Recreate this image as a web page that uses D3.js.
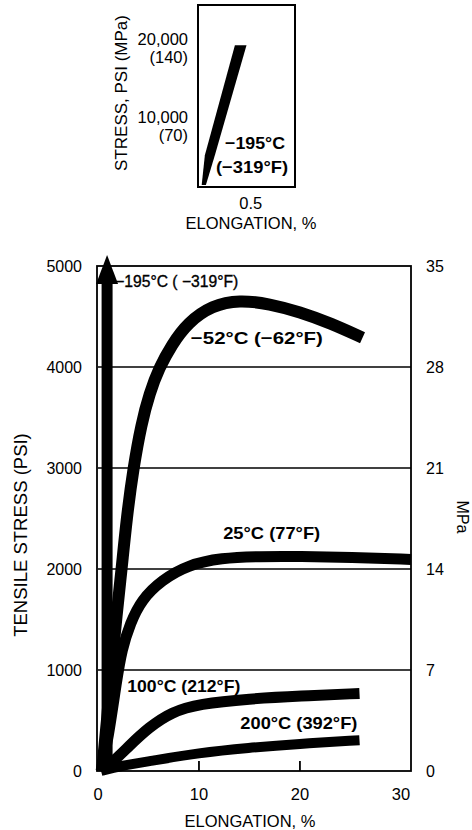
<!DOCTYPE html>
<html>
<head>
<meta charset="utf-8">
<script src="https://cdn.jsdelivr.net/npm/d3@7"></script>
<style>
    body { margin: 0; background: #fff; }
    svg { display: block; font-family: "Liberation Sans", Arial, sans-serif; }
</style>
</head>
<body>
<div id="chart"></div>
<script>
// main chart: elongation (%) vs tensile stress (psi)
var psiTicks = [0, 1000, 2000, 3000, 4000, 5000];
var mpaTicks = [0, 7, 14, 21, 28, 35];
var elongTicks = [0, 10, 20, 30];
var elongMarks = [10, 20];

var curve195 = [[0.9, 0], [0.9, 4880]];
var arrowTip195 = [0.9, 5110];
var curve52 = [[0.4, 0], [0.9, 500], [1.3, 1000], [1.85, 1550], [2.35, 2010], [2.84, 2505],
    [3.5, 3000], [4.3, 3440], [5.1, 3740], [6.05, 3990], [7.3, 4220], [8.9, 4440],
    [11.3, 4610], [14, 4665], [17, 4625], [20, 4545], [23, 4435], [26.2, 4290]];
var curve25 = [[0.3, 0], [1.0, 310], [1.85, 900], [2.35, 1200], [3.2, 1465], [4.3, 1695],
    [6.3, 1890], [8.9, 2040], [12.2, 2110], [16, 2125], [20, 2125], [25, 2115], [31, 2095]];
var curve100 = [[0.3, 0], [1.7, 110], [3.0, 240], [5.0, 430], [7.3, 585], [10, 665],
    [15, 715], [20, 742], [25.9, 768]];
var curve200 = [[0.3, 0], [2.2, 50], [5.1, 97], [10, 180], [14.9, 230], [19.8, 268], [25.9, 305]];

// inset: -195C curve, small elongation
var insetTicks = [20000, 10000];
var insetTickLabels = ["20,000", "10,000"];
var insetMpaLabels = ["(140)", "(70)"];
var insetElongTicks = [0.5];
// band edges: stress, left elongation, right elongation
var insetBand = [[250, 0.035, 0.075], [4100, 0.065, 0.16], [18300, 0.35, 0.46]];

var W = 472, H = 830;
var svg = d3.select("#chart").append("svg").attr("width", W).attr("height", H);

var x = d3.scaleLinear().domain([0, 31]).range([98, 411]);
var y = d3.scaleLinear().domain([0, 5000]).range([771, 266]);
var yM = d3.scaleLinear().domain([0, 35]).range([771, 266]);

var xi = d3.scaleLinear().domain([0, 0.92]).range([198, 295]);
var yi = d3.scaleLinear().domain([0, 23500]).range([187, 5]);

// ---------- inset ----------
var inset = svg.append("g").attr("class", "inset");

inset.append("rect")
    .attr("x", xi(0)).attr("y", yi(23500))
    .attr("width", xi(0.92) - xi(0)).attr("height", yi(0) - yi(23500))
    .attr("fill", "none").attr("stroke", "#000").attr("stroke-width", 2);

var band = d3.area()
    .y(function(d) { return yi(d[0]); })
    .x0(function(d) { return xi(d[1]); })
    .x1(function(d) { return xi(d[2]); });
inset.append("path").datum(insetBand).attr("d", band).attr("fill", "#000");

inset.selectAll(".itick").data(insetTicks).enter().append("text")
    .attr("x", 188).attr("y", function(d) { return yi(d) + 13; })
    .attr("text-anchor", "end").attr("font-size", 16.5)
    .text(function(d, i) { return insetTickLabels[i]; });
inset.selectAll(".impa").data(insetTicks).enter().append("text")
    .attr("x", 188).attr("y", function(d) { return yi(d) + 31; })
    .attr("text-anchor", "end").attr("font-size", 16.5)
    .text(function(d, i) { return insetMpaLabels[i]; });

inset.selectAll(".ixtick").data(insetElongTicks).enter().append("text")
    .attr("x", function(d) { return xi(d); }).attr("y", 209)
    .attr("text-anchor", "middle").attr("font-size", 16.5)
    .text(function(d) { return d; });

inset.append("text")
    .attr("x", 251).attr("y", 229).attr("text-anchor", "middle").attr("font-size", 16.5)
    .text("ELONGATION, %");

inset.append("text")
    .attr("transform", "translate(127,93) rotate(-90)")
    .attr("text-anchor", "middle").attr("font-size", 17)
    .text("STRESS, PSI (MPa)");

inset.append("text")
    .attr("x", 225).attr("y", 149).attr("font-size", 17).attr("font-weight", "bold")
    .attr("textLength", 60).attr("lengthAdjust", "spacingAndGlyphs")
    .text("\u2212195\u00b0C");
inset.append("text")
    .attr("x", 216).attr("y", 173).attr("font-size", 17).attr("font-weight", "bold")
    .attr("textLength", 72).attr("lengthAdjust", "spacingAndGlyphs")
    .text("(\u2212319\u00b0F)");

// ---------- main chart ----------
var main = svg.append("g").attr("class", "main");

main.selectAll(".grid").data(psiTicks.slice(1, 5)).enter().append("line")
    .attr("x1", x(0)).attr("x2", x(31))
    .attr("y1", function(d) { return y(d); }).attr("y2", function(d) { return y(d); })
    .attr("stroke", "#000").attr("stroke-width", 1.5);

// frame
main.append("rect")
    .attr("x", x(0) - 1).attr("y", y(5000))
    .attr("width", x(31) - x(0) + 1).attr("height", y(0) - y(5000))
    .attr("fill", "none").attr("stroke", "#000").attr("stroke-width", 1.8);

main.selectAll(".xmark").data(elongMarks).enter().append("line")
    .attr("x1", function(d) { return x(d); }).attr("x2", function(d) { return x(d); })
    .attr("y1", y(0)).attr("y2", y(0) - 10)
    .attr("stroke", "#000").attr("stroke-width", 1.8);

main.selectAll(".ylab").data(psiTicks).enter().append("text")
    .attr("x", 82).attr("y", function(d) { return y(d); })
    .attr("dy", "0.36em").attr("text-anchor", "end").attr("font-size", 16)
    .text(function(d) { return d; });

main.selectAll(".mlab").data(mpaTicks).enter().append("text")
    .attr("x", 426).attr("y", function(d) { return yM(d); })
    .attr("dy", "0.36em").attr("font-size", 16)
    .text(function(d) { return d; });

main.selectAll(".xlab").data(elongTicks).enter().append("text")
    .attr("x", function(d) { return x(d); }).attr("y", 800)
    .attr("text-anchor", "middle").attr("font-size", 16.5)
    .text(function(d) { return d; });

main.append("text")
    .attr("x", 250).attr("y", 827).attr("text-anchor", "middle").attr("font-size", 16.5)
    .text("ELONGATION, %");

main.append("text")
    .attr("transform", "translate(27,535) rotate(-90)")
    .attr("text-anchor", "middle").attr("font-size", 18.5)
    .text("TENSILE STRESS (PSI)");

main.append("text")
    .attr("transform", "translate(457,517) rotate(90)")
    .attr("text-anchor", "middle").attr("font-size", 16)
    .text("MPa");

var line = d3.line()
    .curve(d3.curveBasis)
    .x(function(d) { return x(d[0]); })
    .y(function(d) { return y(d[1]); });

var series = [
    { data: curve52, width: 12 },
    { data: curve25, width: 11 },
    { data: curve100, width: 11 },
    { data: curve200, width: 10 }
];
main.selectAll(".curve").data(series).enter().append("path")
    .attr("d", function(d) { return line(d.data); })
    .attr("fill", "none").attr("stroke", "#000")
    .attr("stroke-width", function(d) { return d.width; })
    .attr("stroke-linecap", "butt").attr("stroke-linejoin", "round");

// -195C: vertical shaft with arrow head
main.append("path")
    .attr("d", d3.line().x(function(d) { return x(d[0]); }).y(function(d) { return y(d[1]); })(curve195))
    .attr("stroke", "#000").attr("stroke-width", 11).attr("fill", "none");
var tipX = x(arrowTip195[0]), tipY = y(arrowTip195[1]), baseY = y(curve195[1][1]) + 6;
main.append("path")
    .attr("d", "M" + tipX + "," + tipY + "L" + (tipX + 11) + "," + baseY + "L" + (tipX - 11) + "," + baseY + "Z")
    .attr("fill", "#000");

var labels = [
    { text: "\u2212195\u00b0C ( \u2212319\u00b0F)", e: 1.7, s: 4790, len: 123, bold: false, size: 16 },
    { text: "\u221252\u00b0C (\u221262\u00b0F)", e: 9.2, s: 4228, len: 132, bold: true, size: 17 },
    { text: "25\u00b0C (77\u00b0F)", e: 12.4, s: 2297, len: 97, bold: true, size: 17 },
    { text: "100\u00b0C (212\u00b0F)", e: 2.9, s: 782, len: 113, bold: true, size: 17 },
    { text: "200\u00b0C (392\u00b0F)", e: 14.1, s: 416, len: 117, bold: true, size: 17 }
];
main.selectAll(".clab").data(labels).enter().append("text")
    .attr("x", function(d) { return x(d.e); })
    .attr("y", function(d) { return y(d.s); })
    .attr("font-size", function(d) { return d.size; })
    .attr("font-weight", function(d) { return d.bold ? "bold" : "normal"; })
    .attr("stroke", function(d) { return d.bold ? "none" : "#000"; })
    .attr("stroke-width", 0.35)
    .attr("textLength", function(d) { return d.len; })
    .attr("lengthAdjust", "spacingAndGlyphs")
    .text(function(d) { return d.text; });
</script>
</body>
</html>
